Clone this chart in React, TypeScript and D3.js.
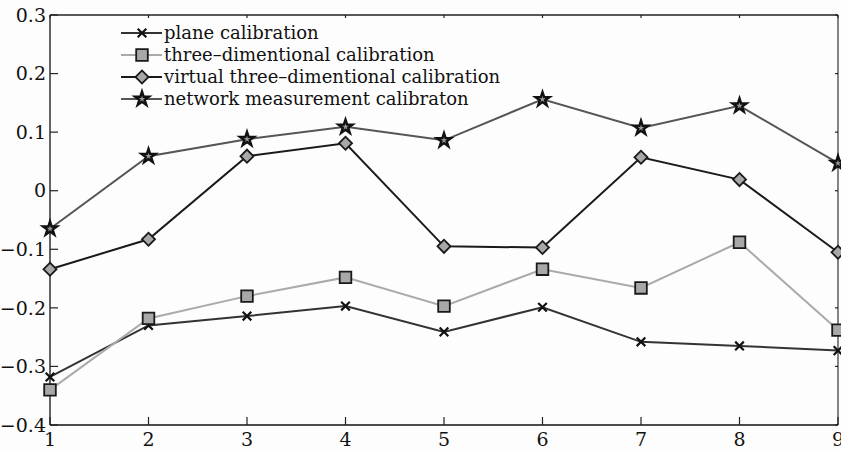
import React, { useEffect, useRef } from "react";
import * as d3 from "d3";

// x positions (sample index)
const xs = [1, 2, 3, 4, 5, 6, 7, 8, 9];

// values
const planeCal = [-0.318, -0.23, -0.214, -0.197, -0.241, -0.199, -0.258, -0.265, -0.273];
const threeDimCal = [-0.34, -0.218, -0.18, -0.148, -0.197, -0.134, -0.166, -0.088, -0.238];
const virtualCal = [-0.134, -0.083, 0.059, 0.081, -0.095, -0.097, 0.057, 0.019, -0.105];
const networkCal = [-0.065, 0.059, 0.088, 0.109, 0.086, 0.156, 0.107, 0.145, 0.047];

const seriesNames = [
  "plane calibration",
  "three\u2013dimentional calibration",
  "virtual three\u2013dimentional calibration",
  "network measurement calibraton",
];

const yTicks = [-0.4, -0.3, -0.2, -0.1, 0, 0.1, 0.2, 0.3];

const W = 841;
const H = 451;
const FONT = '"DejaVu Serif", serif';

const App = () => {
  const svgRef = useRef<SVGSVGElement>(null);

  useEffect(() => {
    const svg = d3.select(svgRef.current);
    svg.selectAll("*").remove();

    const left = 50,
      right = 838,
      top = 15,
      bottom = 425;

    const x = d3.scaleLinear().domain([1, 9]).range([left, right]);
    const y = d3.scaleLinear().domain([-0.4, 0.3]).range([bottom, top]);

    svg.append("rect").attr("width", W).attr("height", H).attr("fill", "#fdfdfd");

    // frame
    const frame = svg.append("g").attr("stroke-width", 1.3).attr("fill", "none");
    frame.append("line").attr("x1", left).attr("x2", right).attr("y1", top).attr("y2", top).attr("stroke", "#222");
    frame.append("line").attr("x1", right).attr("x2", right).attr("y1", top).attr("y2", bottom).attr("stroke", "#444");
    frame.append("line").attr("x1", left).attr("x2", left).attr("y1", top).attr("y2", bottom).attr("stroke", "#111");
    frame.append("line").attr("x1", left).attr("x2", right).attr("y1", bottom).attr("y2", bottom).attr("stroke", "#111");

    // ticks
    const tk = svg.append("g").attr("stroke", "#222").attr("stroke-width", 1.2);
    xs.forEach((v) => {
      tk.append("line").attr("x1", x(v)).attr("x2", x(v)).attr("y1", bottom).attr("y2", bottom - 8);
      tk.append("line").attr("x1", x(v)).attr("x2", x(v)).attr("y1", top).attr("y2", top + 3);
    });
    yTicks.forEach((v) => {
      tk.append("line").attr("x1", left).attr("x2", left + 8).attr("y1", y(v)).attr("y2", y(v));
      tk.append("line").attr("x1", right).attr("x2", right - 3).attr("y1", y(v)).attr("y2", y(v));
    });

    const fmt = (v: number) => (v === 0 ? "0" : d3.format(".1f")(v).replace("-", "\u2212"));

    svg
      .append("g")
      .style("font-family", FONT)
      .style("font-size", "19px")
      .attr("fill", "#111")
      .attr("text-anchor", "end")
      .selectAll("text")
      .data(yTicks)
      .join("text")
      .attr("x", left - 4)
      .attr("y", (d) => y(d))
      .attr("dy", "0.35em")
      .text((d) => fmt(d));

    svg
      .append("g")
      .style("font-family", FONT)
      .style("font-size", "19px")
      .attr("fill", "#111")
      .attr("text-anchor", "middle")
      .selectAll("text")
      .data(xs)
      .join("text")
      .attr("x", (d) => x(d))
      .attr("y", bottom + 21)
      .text((d) => d);

    const styles = [
      { data: planeCal, line: "#333", sym: d3.symbolTimes, size: 50, fill: "none", stroke: "#111", sw: 2.2, rot: 0 },
      { data: threeDimCal, line: "#aaa", sym: d3.symbolSquare, size: 135, fill: "#a8a8a8", stroke: "#1a1a1a", sw: 1.8, rot: 0 },
      { data: virtualCal, line: "#1a1a1a", sym: d3.symbolSquare, size: 85, fill: "#a8a8a8", stroke: "#1a1a1a", sw: 1.8, rot: 45 },
      { data: networkCal, line: "#555", sym: d3.symbolStar, size: 60, fill: "#999", stroke: "#111", sw: 2.4, rot: 0 },
    ];

    const line = d3
      .line<number>()
      .x((d, i) => x(xs[i]))
      .y((d) => y(d));

    styles.forEach((s) => {
      svg
        .append("path")
        .datum(s.data)
        .attr("d", line)
        .attr("fill", "none")
        .attr("stroke", s.line)
        .attr("stroke-width", 2);
    });

    styles.forEach((s) => {
      const sym = d3.symbol().type(s.sym).size(s.size);
      svg
        .append("g")
        .selectAll("path")
        .data(s.data)
        .join("path")
        .attr("transform", (d, i) => `translate(${x(xs[i])},${y(d)}) rotate(${s.rot})`)
        .attr("d", sym)
        .attr("fill", s.fill)
        .attr("stroke", s.stroke)
        .attr("stroke-width", s.sw)
        .attr("stroke-linejoin", "miter");
    });

    // legend
    const lg = svg.append("g");
    styles.forEach((s, i) => {
      const ly = 33 + i * 22;
      lg.append("line").attr("x1", 121).attr("x2", 162).attr("y1", ly).attr("y2", ly).attr("stroke", s.line).attr("stroke-width", 2);
      lg.append("path")
        .attr("transform", `translate(142,${ly}) rotate(${s.rot})`)
        .attr("d", d3.symbol().type(s.sym).size(s.size)())
        .attr("fill", s.fill)
        .attr("stroke", s.stroke)
        .attr("stroke-width", s.sw);
      lg.append("text")
        .attr("x", 164)
        .attr("y", ly)
        .attr("dy", "0.32em")
        .style("font-family", FONT)
        .style("font-size", "18px")
        .attr("fill", "#111")
        .text(seriesNames[i]);
    });
  }, []);

  return (
    <svg
      ref={svgRef}
      width={W}
      height={H}
      style={{ position: "absolute", left: 0, top: 0 }}
    />
  );
};

export default App;
